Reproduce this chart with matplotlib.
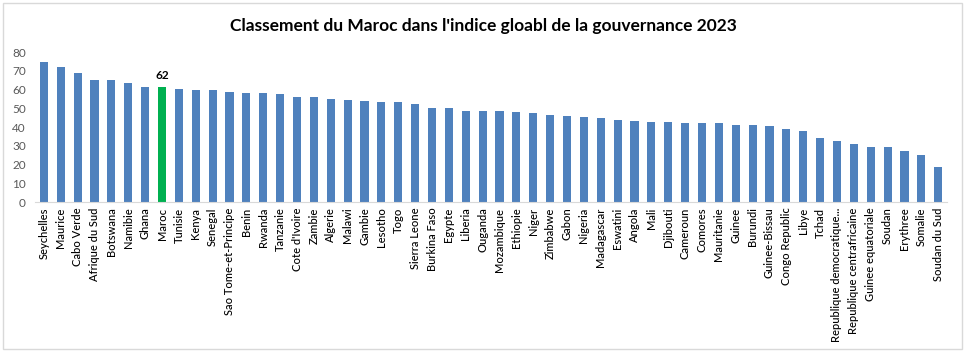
import matplotlib
matplotlib.use("Agg")
import matplotlib.pyplot as plt
from matplotlib.patches import Rectangle

plt.rcParams['font.family'] = ['Lato', 'DejaVu Sans']

pays = ["Seychelles", "Maurice", "Cabo Verde", "Afrique du Sud", "Botswana",
        "Namibie", "Ghana", "Maroc", "Tunisie", "Kenya", "Senegal",
        "Sao Tome-et-Principe", "Benin", "Rwanda", "Tanzanie", "Cote d'Ivoire",
        "Zambie", "Algerie", "Malawi", "Gambie", "Lesotho", "Togo",
        "Sierra Leone", "Burkina Faso", "Egypte", "Liberia", "Ouganda",
        "Mozambique", "Ethiopie", "Niger", "Zimbabwe", "Gabon", "Nigeria",
        "Madagascar", "Eswatini", "Angola", "Mali", "Djibouti", "Cameroun",
        "Comores", "Mauritanie", "Guinee", "Burundi", "Guinee-Bissau",
        "Congo Republic", "Libye", "Tchad", "Republique democratique...",
        "Republique centrafricaine", "Guinee equatoriale", "Soudan",
        "Erythree", "Somalie", "Soudan du Sud"]

scores = [74.8, 72.2, 69.0, 65.2, 65.2, 63.6, 61.5, 61.5, 60.4, 59.9, 59.9,
          58.8, 58.3, 58.3, 57.7, 56.1, 56.1, 55.1, 54.6, 54.0, 53.5, 53.5,
          52.4, 50.3, 50.3, 48.7, 48.7, 48.7, 48.1, 47.6, 46.5, 46.0, 45.4,
          44.9, 43.9, 43.3, 42.8, 42.8, 42.3, 42.3, 42.3, 41.2, 41.2, 40.7,
          39.1, 38.0, 34.3, 32.7, 31.1, 29.5, 29.5, 27.3, 25.2, 18.8]

focus = "Maroc"
focus_label = "62"
yticks = [0, 10, 20, 30, 40, 50, 60, 70, 80]

fig = plt.figure(figsize=(9.66, 3.52), dpi=100)
ax = fig.add_axes([0.0367, 0.426, 0.9433, 0.426])

colors = ["#00B050" if p == focus else "#4F81BD" for p in pays]
x = list(range(len(pays)))
ax.bar(x, scores, width=0.48, color=colors)

i = pays.index(focus)
ax.text(i, scores[i] + 3, focus_label, ha="center", va="bottom",
        fontsize=8.5, fontweight="bold", color="black")

ax.set_xlim(-0.5, len(pays) - 0.5)
ax.set_ylim(0, 80)
ax.set_yticks(yticks)
ax.set_xticks(x)
ax.set_xticklabels(pays, rotation=90, fontsize=8, color="black", fontweight="medium")
ax.tick_params(axis="y", labelsize=8.5, labelcolor="#595959", length=0, pad=7)
ax.tick_params(axis="x", length=0, pad=4)

for s in ["top", "right", "left"]:
    ax.spines[s].set_visible(False)
ax.spines["bottom"].set_color("#D9D9D9")

fig.text(0.5, 0.925, "Classement du Maroc dans l'indice gloabl de la gouvernance 2023",
         ha="center", va="center", fontsize=12.5, fontweight="bold")

fig.patches.append(Rectangle((0.003, 0.009), 0.993, 0.982, transform=fig.transFigure,
                             fill=False, edgecolor="#D9D9D9", linewidth=1))

fig.savefig("out.png", dpi=100)
